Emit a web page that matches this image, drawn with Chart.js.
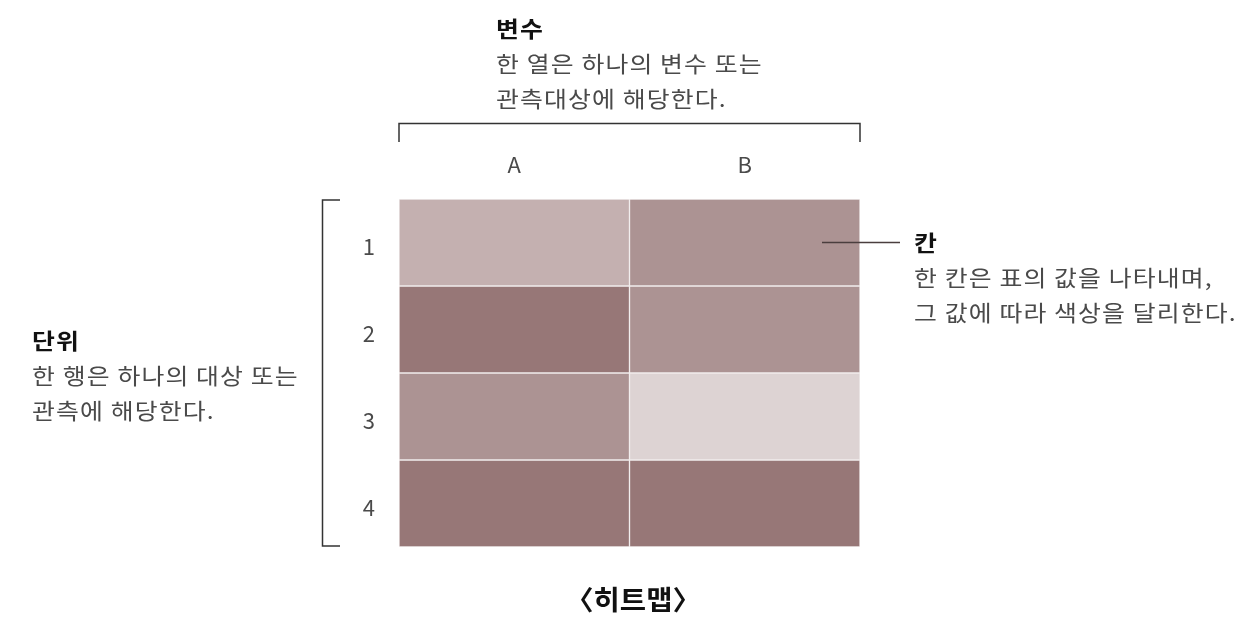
<!DOCTYPE html>
<html><head><meta charset="utf-8">
<script src="https://cdn.jsdelivr.net/npm/chart.js@4/dist/chart.umd.min.js"></script>
<style>html,body{margin:0;padding:0;background:#fff;}#wrap{width:1254px;height:628px;}</style>
</head><body><div id="wrap"><canvas id="c" width="1254" height="628"></canvas></div>
<script>
const columns = ['A', 'B'];
const rows = ['1', '2', '3', '4'];
const valuesA = [2, 4, 3, 4];
const valuesB = [3, 3, 1, 4];
const levelColors = {1: '#ddd3d3', 2: '#c4b0b0', 3: '#ac9393', 4: '#977777'};

const FONT = "'Noto Sans CJK KR', 'Noto Sans', sans-serif";

const datasets = rows.map((r, i) => ({
  label: r,
  data: [1, 1],
  backgroundColor: [levelColors[valuesA[i]], levelColors[valuesB[i]]],
  borderColor: '#f1ecec',
  borderWidth: 1,
  borderSkipped: false,
  categoryPercentage: 1,
  barPercentage: 1,
  stack: 's'
}));

const annot = {
  id: 'annot',
  afterDraw(chart) {
    const ctx = chart.ctx;
    const a = chart.chartArea;
    ctx.save();
    ctx.strokeStyle = '#333';
    ctx.lineWidth = 1.5;
    // top bracket
    ctx.beginPath();
    ctx.moveTo(a.left, 142); ctx.lineTo(a.left, 123.5); ctx.lineTo(a.right, 123.5); ctx.lineTo(a.right, 142);
    ctx.stroke();
    // left bracket
    ctx.beginPath();
    ctx.moveTo(340, a.top + 1); ctx.lineTo(322.5, a.top + 1); ctx.lineTo(322.5, a.bottom - 1); ctx.lineTo(340, a.bottom - 1);
    ctx.stroke();
    // leader line
    ctx.strokeStyle = '#4a3e3e';
    ctx.beginPath();
    ctx.moveTo(822, 242.5); ctx.lineTo(900, 242.5);
    ctx.stroke();

    ctx.textBaseline = 'middle';
    ctx.textAlign = 'left';
    ctx.letterSpacing = '1px';
    const SX = 1.13;
    const wide = (t, x, y) => {
      ctx.save();
      ctx.translate(x, y);
      ctx.scale(SX, 1);
      ctx.fillText(t, 0, 0);
      ctx.restore();
    };
    const block = (x, y, head, lines) => {
      ctx.fillStyle = '#111';
      ctx.font = 'bold 22px ' + FONT;
      wide(head, x, y);
      ctx.fillStyle = '#4a4a4a';
      ctx.font = '22px ' + FONT;
      lines.forEach((t, i) => wide(t, x, y + 35 * (i + 1)));
    };
    block(496, 29, '변수', ['한 열은 하나의 변수 또는', '관측대상에 해당한다.']);
    block(32, 341, '단위', ['한 행은 하나의 대상 또는', '관측에 해당한다.']);
    block(914, 243, '칸', ['한 칸은 표의 값을 나타내며,', '그 값에 따라 색상을 달리한다.']);

    ctx.letterSpacing = '0px';
    ctx.textAlign = 'center';
    ctx.fillStyle = '#111';
    ctx.font = 'bold 27px ' + FONT;
    ctx.save();
    ctx.translate(633, 600);
    ctx.scale(1.06, 1);
    ctx.fillText('〈히트맵〉', 0, 0);
    ctx.restore();
    ctx.restore();
  }
};

new Chart(document.getElementById('c'), {
  type: 'bar',
  data: { labels: columns, datasets },
  options: {
    responsive: false,
    animation: false,
    layout: { padding: { left: 0, right: 394, top: 139, bottom: 81 } },
    plugins: { legend: { display: false }, tooltip: { enabled: false } },
    scales: {
      x: {
        position: 'top',
        stacked: true,
        grid: { display: false, drawTicks: false },
        border: { display: false },
        ticks: { color: '#4a4a4a', font: { family: FONT, size: 22 }, padding: 21 },
        afterFit(s) { s.height = 60; }
      },
      y: {
        stacked: true,
        reverse: true,
        min: 0, max: 4,
        grid: { display: false, drawTicks: false },
        border: { display: false },
        ticks: {
          stepSize: 0.5,
          autoSkip: false,
          color: '#4a4a4a',
          font: { family: FONT, size: 22 },
          padding: 24,
          labelOffset: 4,
          callback: (v) => Number.isInteger(v) ? '' : rows[Math.floor(v)]
        },
        afterFit(s) { s.width = 399; }
      }
    }
  },
  plugins: [annot]
});
</script>
</body></html>
